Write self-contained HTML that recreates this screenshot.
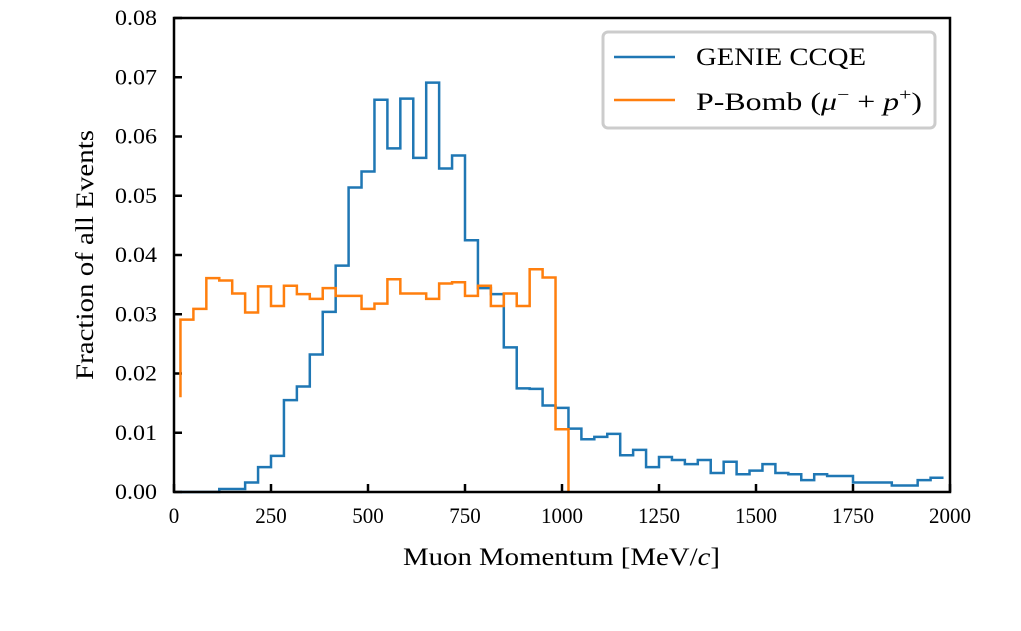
<!DOCTYPE html>
<html><head><meta charset="utf-8"><style>
html,body{margin:0;padding:0;background:#fff;}
svg{display:block;font-family:"Liberation Serif",serif;}
</style></head><body>
<svg id="chart" width="1021" height="631" viewBox="0 0 1021 631">
<g id="ticks"></g>
<g id="series"></g>
<rect x="174" y="18" width="776" height="474" fill="none" stroke="#000" stroke-width="2.5"/>
<text x="403" y="565" font-size="25" textLength="317" lengthAdjust="spacingAndGlyphs">Muon Momentum [MeV/<tspan font-style="italic">c</tspan>]</text>
<text transform="translate(93,380) rotate(-90)" font-size="25" textLength="250" lengthAdjust="spacingAndGlyphs">Fraction of all Events</text>
<g>
<rect x="603" y="32" width="332" height="96" rx="5" fill="#fff" stroke="#ccc" stroke-width="3"/>
<line x1="614" y1="57" x2="675" y2="57" stroke="#1f77b4" stroke-width="2.5"/>
<text x="696" y="65" font-size="25" textLength="170" lengthAdjust="spacingAndGlyphs">GENIE CCQE</text>
<line x1="614" y1="100" x2="675" y2="100" stroke="#ff7f0e" stroke-width="2.5"/>
<text x="696" y="110" font-size="25" textLength="226" lengthAdjust="spacingAndGlyphs">P-Bomb (<tspan font-style="italic">μ</tspan><tspan font-size="17" dy="-10">−</tspan><tspan dy="10"> + </tspan><tspan font-style="italic">p</tspan><tspan font-size="17" dy="-10">+</tspan><tspan dy="10">)</tspan></text>
</g>
</svg>
<script>
const binStart = 16.67;
const binWidth = 33.333;
const genieValues = [0,0,0,0.0005,0.0005,0.0016,0.0042,0.0061,0.0155,0.0178,0.0232,0.0304,0.0382,0.0514,0.0541,0.0662,0.0580,0.0664,0.0564,0.0691,0.0546,0.0568,0.0425,0.0344,0.0334,0.0244,0.0175,0.0174,0.0146,0.0142,0.0107,0.0089,0.0093,0.0098,0.0062,0.0071,0.0042,0.0059,0.0054,0.0047,0.0054,0.0032,0.0051,0.0030,0.0036,0.0047,0.0032,0.0030,0.0020,0.0030,0.0027,0.0027,0.0016,0.0016,0.0016,0.0011,0.0011,0.0020,0.0024];
const pbombValues = [0.0291,0.0309,0.0361,0.0357,0.0335,0.0303,0.0347,0.0314,0.0348,0.0334,0.0326,0.0344,0.0331,0.0331,0.0309,0.0318,0.0359,0.0335,0.0335,0.0326,0.0352,0.0354,0.0331,0.0348,0.0314,0.0335,0.0314,0.0376,0.0362,0.0106];
const pbombStartValue = 0.016;
const xTicks = [0,250,500,750,1000,1250,1500,1750,2000];
const yTicks = [0,0.01,0.02,0.03,0.04,0.05,0.06,0.07,0.08];

const X = v => 174 + v/2000*776;
const Y = v => 492 - v/0.08*474;
const NS = "http://www.w3.org/2000/svg";
const tg = document.getElementById('ticks');
xTicks.forEach(t=>{
  const l=document.createElementNS(NS,'line');
  l.setAttribute('x1',X(t));l.setAttribute('x2',X(t));l.setAttribute('y1',492);l.setAttribute('y2',484);
  l.setAttribute('stroke','#000');l.setAttribute('stroke-width','2.5');
  
  
  tg.appendChild(l);
  const tx=document.createElementNS(NS,'text');
  tx.setAttribute('x',X(t));tx.setAttribute('y',523);tx.setAttribute('font-size','22');tx.setAttribute('text-anchor','middle');
  tx.setAttribute('textLength', String(t).length*10.5);tx.setAttribute('lengthAdjust','spacingAndGlyphs');
  tx.textContent=t;
  
  
  tg.appendChild(tx);
});
yTicks.forEach(t=>{
  const l=document.createElementNS(NS,'line');
  l.setAttribute('x1',174);l.setAttribute('x2',182);l.setAttribute('y1',Y(t));l.setAttribute('y2',Y(t));
  l.setAttribute('stroke','#000');l.setAttribute('stroke-width','2.5');
  
  
  tg.appendChild(l);
  const tx=document.createElementNS(NS,'text');
  tx.setAttribute('x',115);tx.setAttribute('y',Y(t)+7);tx.setAttribute('font-size','22');
  tx.setAttribute('textLength','42');tx.setAttribute('lengthAdjust','spacingAndGlyphs');
  tx.textContent=t.toFixed(2);
  
  
  tg.appendChild(tx);
});
function stepPath(vals, startV, endToZero){
  let d='M'+X(binStart)+','+Y(startV);
  vals.forEach((v,i)=>{
    const a=X(binStart+i*binWidth), b=X(binStart+(i+1)*binWidth);
    d+=' L'+a+','+Y(v)+' L'+b+','+Y(v);
  });
  if(endToZero) d+=' L'+X(binStart+vals.length*binWidth)+','+Y(0);
  return d;
}
const sg=document.getElementById('series');
const p1=document.createElementNS(NS,'path');
p1.setAttribute('d',stepPath(genieValues,0,false));
p1.setAttribute('fill','none');p1.setAttribute('stroke','#1f77b4');p1.setAttribute('stroke-width','2.5');


sg.appendChild(p1);
const p2=document.createElementNS(NS,'path');
p2.setAttribute('d',stepPath(pbombValues,pbombStartValue,true));
p2.setAttribute('fill','none');p2.setAttribute('stroke','#ff7f0e');p2.setAttribute('stroke-width','2.5');


sg.appendChild(p2);
</script>
</body></html>
